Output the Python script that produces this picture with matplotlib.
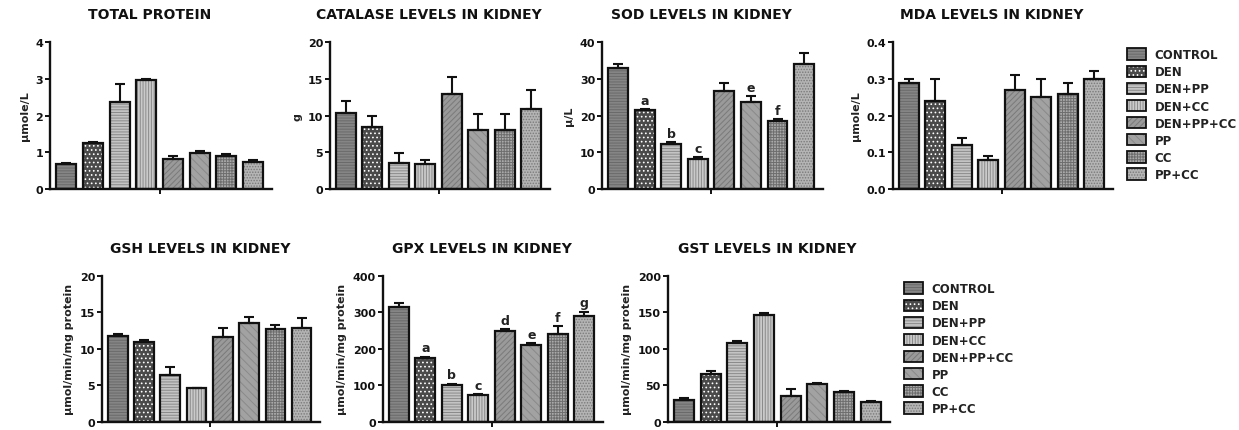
import matplotlib
matplotlib.use('Agg')
import matplotlib.pyplot as plt
from matplotlib.patches import Patch

plt.rcParams['font.family'] = ['DejaVu Sans']
plt.rcParams['font.weight'] = 'bold'
plt.rcParams['hatch.linewidth'] = 0.7

grupos = ['CONTROL', 'DEN', 'DEN+PP', 'DEN+CC', 'DEN+PP+CC', 'PP', 'CC', 'PP+CC']

# valores (media, erro)
proteina = [0.68, 1.25, 2.37, 2.97, 0.81, 0.97, 0.91, 0.73]
proteina_err = [0.03, 0.04, 0.50, 0.03, 0.08, 0.07, 0.04, 0.07]
catalase = [10.4, 8.5, 3.6, 3.4, 12.9, 8.1, 8.0, 10.9]
catalase_err = [1.6, 1.5, 1.3, 0.6, 2.3, 2.1, 2.2, 2.6]
sod = [32.9, 21.4, 12.3, 8.3, 26.8, 23.6, 18.6, 34.1]
sod_err = [1.1, 0.4, 0.4, 0.4, 2.0, 1.7, 0.5, 2.8]
sod_letras = ['', 'a', 'b', 'c', '', 'e', 'f', '']
mda = [0.29, 0.24, 0.12, 0.08, 0.27, 0.25, 0.26, 0.30]
mda_err = [0.01, 0.06, 0.02, 0.01, 0.04, 0.05, 0.03, 0.02]
gsh = [11.8, 10.9, 6.4, 4.6, 11.7, 13.6, 12.7, 12.9]
gsh_err = [0.3, 0.3, 1.1, 0.1, 1.1, 0.8, 0.6, 1.4]
gpx = [315, 176, 102, 73, 250, 212, 241, 290]
gpx_err = [10, 3, 3, 3, 4, 3, 22, 12]
gpx_letras = ['', 'a', 'b', 'c', 'd', 'e', 'f', 'g']
gst = [29.5, 65.5, 108, 146, 36, 52, 41, 27]
gst_err = [3, 4.5, 3, 3, 8.5, 1.5, 1.7, 1.5]

# fundo, cor da hachura, hachura
cores = ['#858585', '#4a4a4a', '#c4c4c4', '#cacaca', '#9a9a9a', '#a2a2a2', '#aaaaaa', '#b4b4b4']
cores_hach = ['#6a6a6a', '#ffffff', '#8a8a8a', '#8a8a8a', '#7a7a7a', '#8a8a8a', '#6e6e6e', '#7a7a7a']
hachuras = ['------', '....', '------', '||||||', '//////', '\\\\\\\\', '++++++', '......']

paineis = [
    ('TOTAL PROTEIN', proteina, proteina_err, None, 'µmole/L', 4, 1, [0.0404, 0.559, 0.179, 0.341], '{:.0f}'),
    ('CATALASE LEVELS IN KIDNEY', catalase, catalase_err, None, 'g', 20, 5, [0.2663, 0.559, 0.1776, 0.341], '{:.0f}'),
    ('SOD LEVELS IN KIDNEY', sod, sod_err, sod_letras, 'µ/L', 40, 10, [0.486, 0.559, 0.178, 0.341], '{:.0f}'),
    ('MDA LEVELS IN KIDNEY', mda, mda_err, None, 'µmole/L', 0.4, 0.1, [0.7207, 0.559, 0.1776, 0.341], '{:.1f}'),
    ('GSH LEVELS IN KIDNEY', gsh, gsh_err, None, 'µmol/min/mg protein', 20, 5, [0.0823, 0.0186, 0.176, 0.339], '{:.0f}'),
    ('GPX LEVELS IN KIDNEY', gpx, gpx_err, gpx_letras, 'µmol/min/mg protein', 400, 100, [0.309, 0.0186, 0.1776, 0.339], '{:.0f}'),
    ('GST LEVELS IN KIDNEY', gst, gst_err, None, 'µmol/min/mg protein', 200, 50, [0.539, 0.0186, 0.179, 0.339], '{:.0f}'),
]

fig = plt.figure(figsize=(12.39, 4.31), dpi=100)

for titulo, vals, errs, letras, ylabel, ymax, passo, pos, fmt in paineis:
    ax = fig.add_axes(pos)
    x = range(len(vals))
    for i in x:
        ax.bar(i, vals[i], 0.75, color=cores[i], hatch=hachuras[i], edgecolor=cores_hach[i], linewidth=0, zorder=2)
        ax.bar(i, vals[i], 0.75, fill=False, edgecolor='#111111', linewidth=1.6, zorder=3)
        ax.errorbar(i, vals[i], yerr=[[0], [errs[i]]], fmt='none', ecolor='#111111', elinewidth=1.5, capsize=3.5, capthick=1.5, zorder=3)
        if letras and letras[i]:
            ax.text(i, vals[i] + errs[i] + ymax * 0.015, letras[i], ha='center', va='bottom', fontsize=9, fontweight='bold', color='#222222')
    ax.set_xlim(-0.6, 7.7)
    ax.set_ylim(0, ymax)
    ticks = [k * passo for k in range(int(round(ymax / passo)) + 1)]
    ax.set_yticks(ticks)
    ax.set_yticklabels([fmt.format(t) for t in ticks], fontsize=8, fontweight='bold', color='#222222')
    ax.set_xticks([3.5])
    ax.set_xticklabels([''])
    ax.tick_params(width=1.4, length=3.5, pad=1.5, colors='#111111')
    ax.spines['top'].set_visible(False)
    ax.spines['right'].set_visible(False)
    ax.spines['left'].set_linewidth(1.7)
    ax.spines['bottom'].set_linewidth(1.7)
    ax.spines['left'].set_color('#111111')
    ax.spines['bottom'].set_color('#111111')
    ax.set_ylabel(ylabel, fontsize=8, fontweight='bold', labelpad=4, color='#222222')
    t = ax.set_title(titulo, fontsize=10, fontweight='bold', pad=17, color='#111111')
    t.set_x(0.45)

handles = []
for i in range(len(grupos)):
    fundo = Patch(facecolor=cores[i], hatch=hachuras[i], edgecolor=cores_hach[i], linewidth=0)
    borda = Patch(fill=False, edgecolor='#111111', linewidth=1.3)
    handles.append((fundo, borda))

for anchor in [(0.906, 0.897), (0.726, 0.354)]:
    fig.legend(handles=handles, labels=grupos, loc='upper left', bbox_to_anchor=anchor, frameon=False,
               prop={'size': 8.5, 'weight': 'bold'}, handlelength=1.6, handleheight=1.1,
               labelspacing=0.35, handletextpad=0.7, borderaxespad=0, labelcolor='#222222')

fig.savefig('out.png', dpi=100)
